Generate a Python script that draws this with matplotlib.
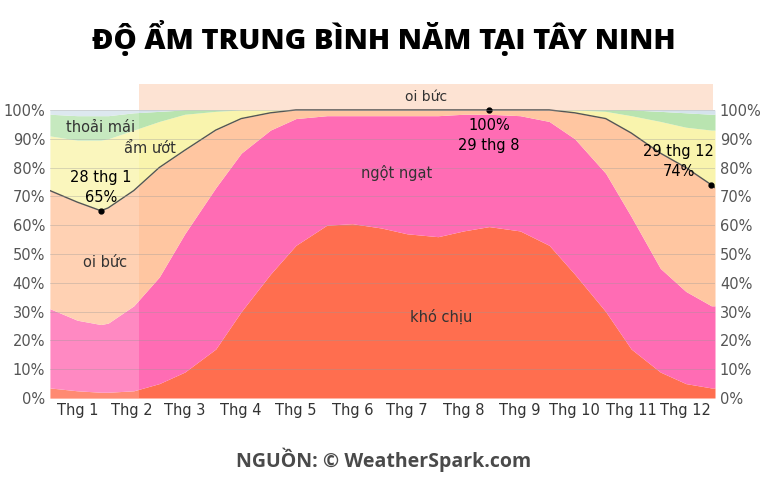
import matplotlib
matplotlib.use("Agg")
import matplotlib.pyplot as plt
import numpy as np

# day of year and cumulative tops of each comfort band (%)
days = [0, 15, 28, 32, 46, 60, 74, 91, 105, 121, 135, 152, 166, 182, 196, 213, 227, 241, 258, 274, 288, 305, 319, 335, 349, 363, 365]
top_kho_chiu = [3.5, 2.5, 2, 2, 2.5, 5, 9, 17, 30, 43, 53, 60, 60.5, 59, 57, 56, 58, 59.5, 58, 53, 43, 30, 17, 9, 5, 3.5, 3.5]
top_ngot_ngat = [31, 27, 25.5, 26, 32, 42, 57, 73, 85, 93, 97, 98, 98, 98, 98, 98, 98.5, 98.5, 98, 96, 90, 78, 63, 45, 37, 32, 32]
top_oi_buc = [72, 68, 65, 66, 72, 80, 86, 93, 97, 99, 100, 100, 100, 100, 100, 100, 100, 100, 100, 100, 99, 97, 92, 85, 80, 74, 73]
top_am_uot = [91, 89.5, 89.5, 90, 93, 96, 98.5, 99.5, 100, 100, 100, 100, 100, 100, 100, 100, 100, 100, 100, 100, 100, 99.5, 98, 96, 94, 93, 93]
top_thoai_mai = [98.5, 98, 98, 98, 99, 99.5, 100, 100, 100, 100, 100, 100, 100, 100, 100, 100, 100, 100, 100, 100, 100, 100, 100, 99.5, 99, 98.5, 98.5]

month_labels = ["Thg 1", "Thg 2", "Thg 3", "Thg 4", "Thg 5", "Thg 6",
                "Thg 7", "Thg 8", "Thg 9", "Thg 10", "Thg 11", "Thg 12"]
month_centers = [15, 45, 74, 105, 135, 166, 196, 227, 258, 288, 319, 349]
season_start, season_end = 49, 364

fig = plt.figure(figsize=(7.68, 5.0), dpi=100)
ax = fig.add_axes([0.065, 0.204, 0.866, 0.628])

x = np.array(days)
layers = [np.zeros(len(x)), top_kho_chiu, top_ngot_ngat, top_oi_buc, top_am_uot, top_thoai_mai, np.full(len(x), 100)]
colors = ["#ff6e4f", "#ff6cb4", "#ffc6a1", "#f9f4ad", "#b9e4b0", "#d5e3ec"]
for lo, hi, c in zip(layers[:-1], layers[1:], colors):
    ax.fill_between(x, lo, hi, color=c, linewidth=0)

ax.plot(x, top_oi_buc, color="#555555", lw=1)
# fade outside muggy season
ax.axvspan(0, season_start, ymax=100 / 109, color="white", alpha=0.2, lw=0)
ax.axvspan(season_start, season_end, ymin=100 / 109, ymax=1, color="#fde3d3", lw=0)
ax.text((season_start + season_end) / 2, 104.5, "oi bức", ha="center", va="center", fontsize=10, color="#333333")

for d, v in zip([28, 241, 363], [65, 100, 74]):
    ax.plot(d, v, "o", color="black", ms=3.5)
ax.text(28, 73, "28 thg 1\n65%", ha="center", va="center", fontsize=10.5, linespacing=1.4)
ax.text(241, 91, "100%\n29 thg 8", ha="center", va="center", fontsize=10.5, linespacing=1.4)
ax.text(345, 82, "29 thg 12\n74%", ha="center", va="center", fontsize=10.5, linespacing=1.4)

for txt, d, v in [("thoải mái", 28, 94), ("ẩm ướt", 55, 86.5), ("oi bức", 30, 47),
                  ("ngột ngạt", 190, 78), ("khó chịu", 215, 28)]:
    ax.text(d, v, txt, ha="center", va="center", fontsize=10.5, color="#333333")

ax.set_xlim(0, 365)
ax.set_ylim(0, 109)
ticks = list(range(0, 101, 10))
ax.set_yticks(ticks)
ax.set_yticklabels([f"{t}%" for t in ticks], fontsize=10.5, color="#555555")
ax.set_xticks(month_centers)
ax.set_xticklabels(month_labels, fontsize=10.5, color="#333333")
ax.tick_params(length=0)
for t in ticks:
    ax.axhline(t, color="#999999", lw=0.5, alpha=0.5)
for s in ax.spines.values():
    s.set_visible(False)
ax2 = ax.twinx()
ax2.set_ylim(ax.get_ylim())
ax2.set_yticks(ticks)
ax2.set_yticklabels([f"{t}%" for t in ticks], fontsize=10.5, color="#555555")
ax2.tick_params(length=0)
for s in ax2.spines.values():
    s.set_visible(False)

fig.text(0.5, 0.925, "ĐỘ ẨM TRUNG BÌNH NĂM TẠI TÂY NINH", ha="center", va="center",
         fontsize=21, fontweight="heavy", family="Open Sans")
fig.text(0.5, 0.08, "NGUỒN: © WeatherSpark.com", ha="center", va="center",
         fontsize=14, fontweight="bold", color="#4a4a4a", family="Open Sans")

fig.savefig("out.png", dpi=100)
